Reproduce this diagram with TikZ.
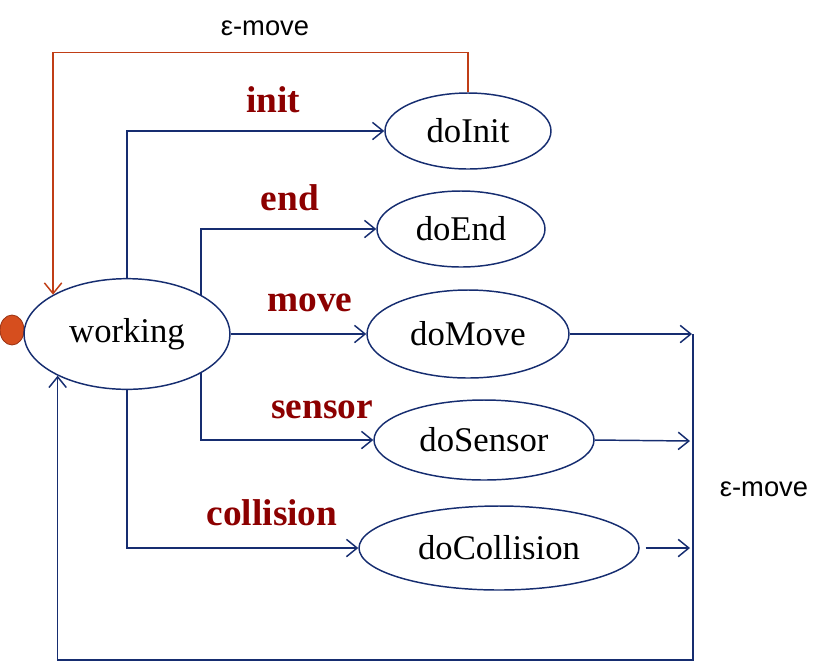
\documentclass[tikz,border=0pt]{standalone}
\usepackage{fontspec}
\setmainfont{Liberation Serif}
\newfontfamily\epsfont{Liberation Sans}
\usepackage{xcolor}
\usepackage{tikz}
\usetikzlibrary{shapes}
\usetikzlibrary{shapes.geometric}
\usetikzlibrary{arrows.meta}
\usetikzlibrary{calc}
\definecolor{navy}{RGB}{22,45,112}
\definecolor{rust}{RGB}{192,62,22}
\definecolor{dotfill}{RGB}{214,78,30}
\definecolor{lblred}{RGB}{140,0,0}
\tikzset{
  state/.style={ellipse, draw=navy, line width=1.1pt, inner sep=0pt, font=\fontsize{26}{30}\selectfont},
  trans/.style={draw=navy, line width=1.1pt, -{Straight Barb[length=8pt,width=13pt,line width=1.1pt]}},
  eps/.style={draw=rust, line width=1.1pt, -{Straight Barb[length=8pt,width=13pt,line width=1.1pt]}},
  lbl/.style={text=lblred, font=\fontsize{28}{32}\selectfont\bfseries},
  epslbl/.style={font=\epsfont\fontsize{20.5}{24}\selectfont}
}

\begin{document}
\begin{tikzpicture}[x=0.75pt, y=-0.75pt]
  \useasboundingbox (0,0) rectangle (831,662);
  % states
  \node[ellipse, draw=rust!80!black, fill=dotfill, line width=0.6pt, minimum width=18pt, minimum height=22.5pt, inner sep=0pt] (start) at (12,330) {};
  \node[state, minimum width=154.5pt, minimum height=83pt] (working) at (127,334) {working};
  \node[state, minimum width=124.5pt, minimum height=57pt] (doInit) at (468,131) {doInit};
  \node[state, minimum width=126pt, minimum height=57pt] (doEnd) at (461,229) {doEnd};
  \node[state, minimum width=151.5pt, minimum height=66pt] (doMove) at (468,334) {doMove};
  \node[state, minimum width=165pt, minimum height=60pt] (doSensor) at (484,440) {doSensor};
  \node[state, minimum width=210pt, minimum height=63pt] (doCollision) at (499,548) {doCollision};
  % transition labels
  \node[lbl] (lInit) at (273,100) {init};
  \node[lbl] (lEnd) at (290,198) {end};
  \node[lbl] (lMove) at (310,303) {move};
  \node[lbl] (lSensor) at (322,410) {sensor};
  \node[lbl] (lCollision) at (272,513) {collision};
  \node[epslbl] (epsTop) at (265,28) {ε-move};
  \node[epslbl] (epsRight) at (764,489) {ε-move};
  % transitions out of working
  \draw[trans] (working.north) |- (doInit.west);
  \draw[trans] (working.28) |- (doEnd.west);
  \draw[trans] (working.east) -- (doMove.west);
  \draw[trans] (working.-28) |- (doSensor.west);
  \draw[trans] (working.south) |- (doCollision.west);
  % epsilon moves back
  \coordinate (mvEnd) at (692,334);
  \coordinate (snEnd) at (690,441);
  \coordinate (clEnd) at (690,548);
  \coordinate (barBot) at (693,660);
  \draw[trans] (doMove.east) -- (mvEnd);
  \draw[trans] (doSensor.east) -- (snEnd);
  \draw[trans, shorten <=4.5pt] (doCollision.east) -- (clEnd);
  \draw[trans] (693,334) -- (barBot) -| (working.211);
  \draw[eps] (doInit.north) -- ++(0,-40) -| (working.152);
\end{tikzpicture}
\end{document}
